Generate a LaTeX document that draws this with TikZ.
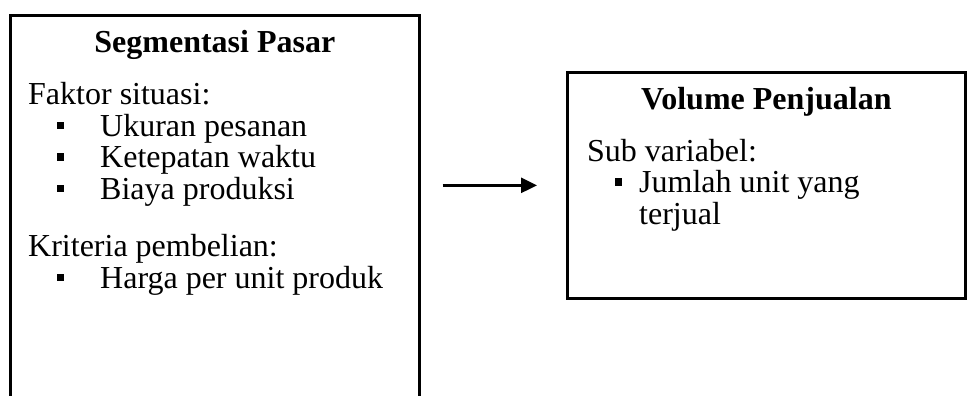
\documentclass[tikz,border=0pt]{standalone}
\usepackage{fontspec}
\setmainfont{Liberation Serif}
\usepackage{tikz}
\usetikzlibrary{arrows.meta,positioning,calc}
\newcommand{\sqbullet}{\rule[7pt]{7pt}{7.5pt}}
\newcommand{\leftitem}[1]{\hspace*{29pt}\sqbullet\hspace*{36pt}#1}
\newcommand{\rightitem}[1]{\hspace*{28pt}\sqbullet\hspace*{17pt}#1}
\tikzset{
  varbox/.style={draw=black, line width=2.7pt, fill=white, inner sep=0pt},
  boxtitle/.style={font=\fontsize{32}{31.5}\selectfont\bfseries, inner sep=0pt, anchor=base},
  boxbody/.style={font=\fontsize{32}{31.5}\selectfont, align=left, inner sep=0pt, anchor=base west},
  arrow/.style={-{Triangle[length=16pt,width=15pt]}, line width=2.7pt, draw=black}
}
\begin{document}
\begin{tikzpicture}[x=1pt,y=-1pt]
  \useasboundingbox (0,0) rectangle (970,396);
  \clip (0,0) rectangle (970,396);
  % left box runs past the lower edge of the page
  \node[varbox, minimum width=409pt, minimum height=420pt, anchor=north west] (segmen) at (9,14) {};
  \node[boxtitle] (segmentitle) at ($(segmen.north)+(0,39)$) {Segmentasi Pasar};
  % base anchor sits on the last line
  \node[boxbody] (segmenbody) at ($(segmen.north west)+(19,274)$) {Faktor situasi:\\
    \leftitem{Ukuran pesanan}\\
    \leftitem{Ketepatan waktu}\\
    \leftitem{Biaya produksi}\\[26pt]
    Kriteria pembelian:\\
    \leftitem{Harga per unit produk}};

  \node[varbox, minimum width=398pt, minimum height=226pt, anchor=north west] (volume) at (566,71) {};
  \node[boxtitle] (volumetitle) at ($(volume.north)+(0,39)$) {Volume Penjualan};
  \node[boxbody] (volumebody) at ($(volume.north west)+(21,153)$) {Sub variabel:\\
    \rightitem{Jumlah unit yang}\\
    \hspace*{52pt}terjual};

  \draw[arrow, shorten <=22pt, shorten >=29pt] (segmen.east |- volume.west) -- (volume.west);
\end{tikzpicture}
\end{document}
